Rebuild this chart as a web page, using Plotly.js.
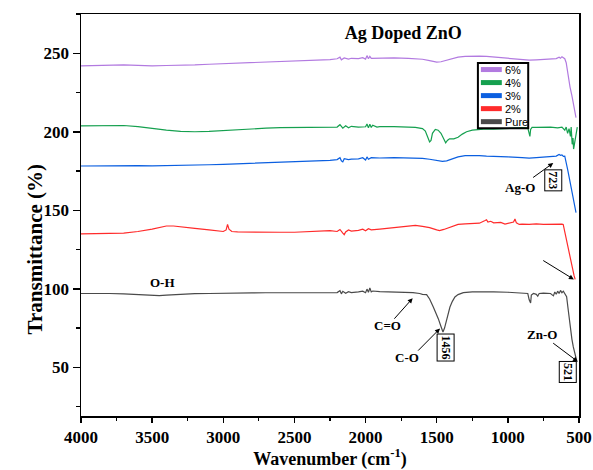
<!DOCTYPE html>
<html>
<head>
<meta charset="utf-8">
<script src="https://cdn.plot.ly/plotly-3.0.1.min.js"></script>
<style>html,body{margin:0;padding:0;background:#fff;}#chart{width:593px;height:470px;}</style>
</head>
<body>
<div id="chart"></div>
<script>
// ---- Data ----
const seriesNames = ['6%', '4%', '3%', '2%', 'Pure'];
const seriesColors = ['#b27ae0', '#15a04f', '#0b5fe0', '#ff2b2b', '#4a4a4a'];

const pureX = [4000,3900,3800,3700,3600,3500,3450,3400,3300,3200,3100,3000,2900,2800,2700,2600,2500,2400,2300,2250,2200,2180,2170,2160,2140,2120,2100,2050,2020,2000,1990,1980,1970,1960,1950,1900,1800,1700,1667,1620,1600,1571,1550,1524,1500,1489,1470,1456,1445,1430,1418,1407,1390,1372,1350,1313,1250,1200,1100,1000,900,860,850,840,835,820,800,790,780,750,700,680,670,660,650,640,630,620,610,600,587,575,564,550,540,529,517];
const pureY = [97,97.2,97,96.8,96.3,95.8,95.6,96,96.6,96.9,97,97,97.2,97.4,97.5,97.6,97.7,97.7,97.8,97.8,97.6,98.8,96.8,98.4,97.2,98.2,97.6,98,98.5,97.5,99.8,97.8,100.5,98,98.6,98.2,98,97.8,97.6,97,96.5,96.3,93.5,88.4,84,81,76,72.5,75,80,85,88.4,92,94.8,96.3,97.6,98,98.1,98,97.8,97.3,97,93,91,96,97,96.5,95.3,97,97.2,97,95.5,98,96.5,98.5,97,99,97.5,98.5,96.5,95,86,76,68,63,58.7,54.5];

const p2X = [4000,3900,3800,3700,3600,3500,3400,3350,3300,3200,3100,3000,2980,2970,2960,2940,2900,2800,2700,2600,2500,2400,2300,2250,2200,2180,2160,2150,2140,2120,2100,2050,2020,2000,1980,1960,1900,1800,1700,1650,1600,1550,1500,1480,1450,1400,1350,1300,1250,1200,1160,1150,1140,1120,1100,1050,1020,1000,960,950,940,920,900,850,800,750,700,650,620,611,600,587,575,564,555,545,535,527];
const p2Y = [135,135,135.3,135.5,136.5,138,140,140,139.6,138.5,137.5,136.5,137.5,141,138,136.5,136.2,136,136,136,136,136.3,136.6,137,136.5,137.8,135.5,134.5,136.2,137.5,136.8,137.2,138,137,138.3,137.5,138,139,140.3,140.4,139.8,139,137.5,137,137.8,139.5,141,141.3,141.5,141.8,143.5,144,142.5,143,142,142.3,141.2,141.5,142.5,144.5,142,141,141.2,141,141.3,141,141.2,141,141.2,141,136,131,125,120,115.5,112,108.5,106];

const p3X = [4000,3900,3800,3700,3600,3500,3400,3300,3200,3100,3000,2900,2800,2700,2600,2500,2400,2300,2250,2200,2180,2170,2160,2150,2120,2100,2050,2020,2000,1990,1980,1960,1900,1800,1700,1600,1550,1500,1460,1430,1400,1350,1300,1250,1200,1150,1100,1000,900,850,800,750,700,660,640,630,620,610,600,590,580,570,560,550,540,530,521];
const p3Y = [178.2,178.3,178.6,178.8,178.5,178.3,178.4,178.6,178.8,179,179.3,179.6,179.9,180.3,180.7,181,181.3,181.6,181.8,182.3,183.5,181.5,180.8,182.8,182.3,182.6,182.7,183.5,182,184,182.5,183.5,183.3,183.5,183.3,183,182.5,181.8,181.2,181.5,182.5,184,184.8,185,184.8,184.5,184.2,184,183.5,183.2,183.5,183.8,183.8,184.5,185.5,185,185.3,184.3,184.5,181,176,171.5,167,161,156,151.5,148.5];

const p4X = [4000,3900,3800,3700,3600,3500,3400,3300,3200,3100,3000,2900,2800,2700,2600,2500,2400,2300,2250,2200,2180,2160,2140,2120,2100,2050,2000,1990,1980,1970,1960,1950,1920,1900,1800,1700,1650,1600,1580,1565,1550,1540,1530,1510,1490,1470,1450,1437,1425,1410,1380,1350,1320,1290,1250,1200,1150,1100,1050,1000,950,900,860,850,845,840,830,800,750,700,650,620,600,590,580,570,560,555,548,542,538,530,525,518,512];
const p4Y = [203.8,204,204.2,204,203.3,202,201,200.3,200,200.2,200.8,201.5,202,202.3,202.6,202.8,203,203,203.2,203,204.5,202.3,203.8,202.5,203.5,203,203.2,205,202.5,204.8,202.8,204.2,203,203.3,203.3,203,202.8,202,200.5,197,193.5,194.5,199,201.5,201,199,195,193,194.5,195.5,195.5,196.5,198.5,200,201,201.5,201.8,201.7,202,202.2,202.5,202.6,202.5,199,197,201.5,202.8,202.8,203,203,202.5,203,201,203,199,202,197,203,192,196,189,193,198,201,203];

const p6X = [4000,3900,3800,3700,3600,3500,3400,3300,3200,3100,3000,2900,2800,2700,2600,2500,2400,2300,2250,2200,2180,2170,2150,2120,2100,2050,2020,2000,1990,1980,1970,1960,1900,1800,1700,1650,1600,1550,1520,1500,1470,1430,1400,1350,1300,1250,1200,1150,1100,1000,950,900,850,800,750,700,660,640,630,620,610,600,590,580,570,563,550,540,530,521];
const p6Y = [242,242.2,242.5,242.6,242.3,242,242.2,242.3,242.6,243,243.3,243.6,243.9,244.2,244.5,244.8,245.2,245.6,246,246.5,247.5,245.8,247,246.3,246.8,246.6,247.2,246.3,248.5,246.5,248,246.8,247,247,246.8,246.6,246.2,245.3,244.6,244.3,244.6,245.6,246.5,247.5,248,248.2,248.2,248,247.6,247,246.6,246,245.6,245.8,246,246.2,246.6,247.5,246.8,247.8,247,246.5,244,237,231,228.5,223,218,213,209];

const xTickVals = [4000,3500,3000,2500,2000,1500,1000,500];
const yTickVals = [50,100,150,200,250];

// ---- Traces ----
const seriesX = [p6X, p4X, p3X, p2X, pureX];
const seriesY = [p6Y, p4Y, p3Y, p2Y, pureY];
const traces = seriesNames.map((n, i) => ({
  type: 'scatter', mode: 'lines', name: n,
  x: seriesX[i], y: seriesY[i],
  line: {color: seriesColors[i], width: 1.2},
  hoverinfo: 'skip'
}));

// ---- Annotations ----
const serif = 'Liberation Serif, Times New Roman, serif';
const labFont = {family: serif, size: 13, color: 'black', weight: 'bold'};
const boxFont = {family: serif, size: 12, color: 'black', weight: 'bold'};
const annotations = [
  {x: 3424, y: 104, text: 'O-H', showarrow: false, font: labFont},
  {x: 1843, y: 76.7, text: 'C=O', showarrow: false, font: labFont},
  {x: 1711, y: 56.2, text: 'C-O', showarrow: false, font: labFont},
  {x: 763, y: 71, text: 'Zn-O', showarrow: false, font: labFont},
  {x: 915, y: 164.8, text: 'Ag-O', showarrow: false, font: labFont},
  {x: 1438, y: 62.9, text: '1456', textangle: 90, showarrow: false, font: boxFont, bordercolor: 'black', borderwidth: 1, borderpad: 1, bgcolor: 'white'},
  {x: 578, y: 47.1, text: '521', textangle: 90, showarrow: false, font: boxFont, bordercolor: 'black', borderwidth: 1, borderpad: 1, bgcolor: 'white'},
  {x: 683, y: 169.1, text: '723', textangle: 90, showarrow: false, font: boxFont, bordercolor: 'black', borderwidth: 1, borderpad: 1, bgcolor: 'white'}
];
const arrows = [
  [1807, 80, 1669, 94],
  [1641, 59.7, 1477, 74.7],
  [692, 66.1, 508, 53.6],
  [762, 118.6, 536, 106],
  [833, 170.2, 681, 180.1]
];
arrows.forEach(a => annotations.push({
  x: a[2], y: a[3], ax: a[0], ay: a[1], axref: 'x', ayref: 'y',
  text: '', showarrow: true, arrowhead: 2, arrowsize: 1, arrowwidth: 1, arrowcolor: 'black'
}));

// Y axis title
annotations.push({xref: 'paper', yref: 'paper', x: -0.12, y: 0.415, text: 'Transmittance (%)', textangle: -90, showarrow: false,
  font: {family: serif, size: 21, color: 'black', weight: 'bold'}});

// ---- Custom compact legend (box + sample lines + names) ----
const shapes = [];
const lgX0 = 0.797, lgX1 = 0.898, lgTop = 0.878, lgBot = 0.716;
shapes.push({type: 'rect', xref: 'paper', yref: 'paper', x0: lgX0, x1: lgX1, y0: lgBot, y1: lgTop, line: {color: 'black', width: 2}, fillcolor: 'rgba(255,255,255,0)'});
const rowH = (lgTop - lgBot) / seriesNames.length;
seriesNames.forEach((n, i) => {
  const yc = lgTop - rowH * (i + 0.5);
  shapes.push({type: 'line', xref: 'paper', yref: 'paper', x0: lgX0 + 0.006, x1: lgX0 + 0.048, y0: yc, y1: yc, line: {color: seriesColors[i], width: 5}});
  annotations.push({xref: 'paper', yref: 'paper', x: lgX0 + 0.05, y: yc, xanchor: 'left', yanchor: 'middle', text: n, showarrow: false,
    font: {family: 'Liberation Sans, Arial, sans-serif', size: 11, color: 'black'}});
});

const layout = {
  width: 593, height: 470,
  margin: {l: 81, r: 14, t: 14, b: 54},
  paper_bgcolor: 'white', plot_bgcolor: 'white',
  showlegend: false,
  font: {family: serif, color: 'black'},
  title: {text: 'Ag Doped ZnO', x: 0.647, xref: 'paper', xanchor: 'center', y: 0.93, yref: 'container', yanchor: 'middle',
    font: {family: serif, size: 18, color: 'black', weight: 'bold'}},
  xaxis: {
    range: [4000, 500], tickvals: xTickVals, ticktext: xTickVals.map(String),
    ticks: 'outside', ticklen: 5, tickwidth: 1.5, tickcolor: 'black',
    linewidth: 1.5, linecolor: 'black', mirror: true, showgrid: false, zeroline: false,
    tickfont: {family: serif, size: 17, color: 'black', weight: 'bold'},
    minor: {ticks: 'outside', dtick: 250, tick0: 500, ticklen: 3, tickwidth: 1.2, tickcolor: 'black', showgrid: false},
    title: {text: 'Wavenumber (cm<sup>-1</sup>)', font: {family: serif, size: 18, color: 'black', weight: 'bold'}, standoff: 10}
  },
  yaxis: {
    range: [19, 275], tickvals: yTickVals, ticktext: yTickVals.map(String),
    ticks: 'outside', ticklen: 7, tickwidth: 1.5, tickcolor: 'black',
    linewidth: 1.5, linecolor: 'black', mirror: true, showgrid: false, zeroline: false,
    tickfont: {family: serif, size: 17, color: 'black', weight: 'bold'},
    minor: {ticks: 'outside', dtick: 25, tick0: 0, ticklen: 4, tickwidth: 1.2, tickcolor: 'black', showgrid: false}
  },
  annotations: annotations,
  shapes: shapes
};

Plotly.newPlot('chart', traces, layout, {displayModeBar: false, staticPlot: true});
</script>
</body>
</html>
